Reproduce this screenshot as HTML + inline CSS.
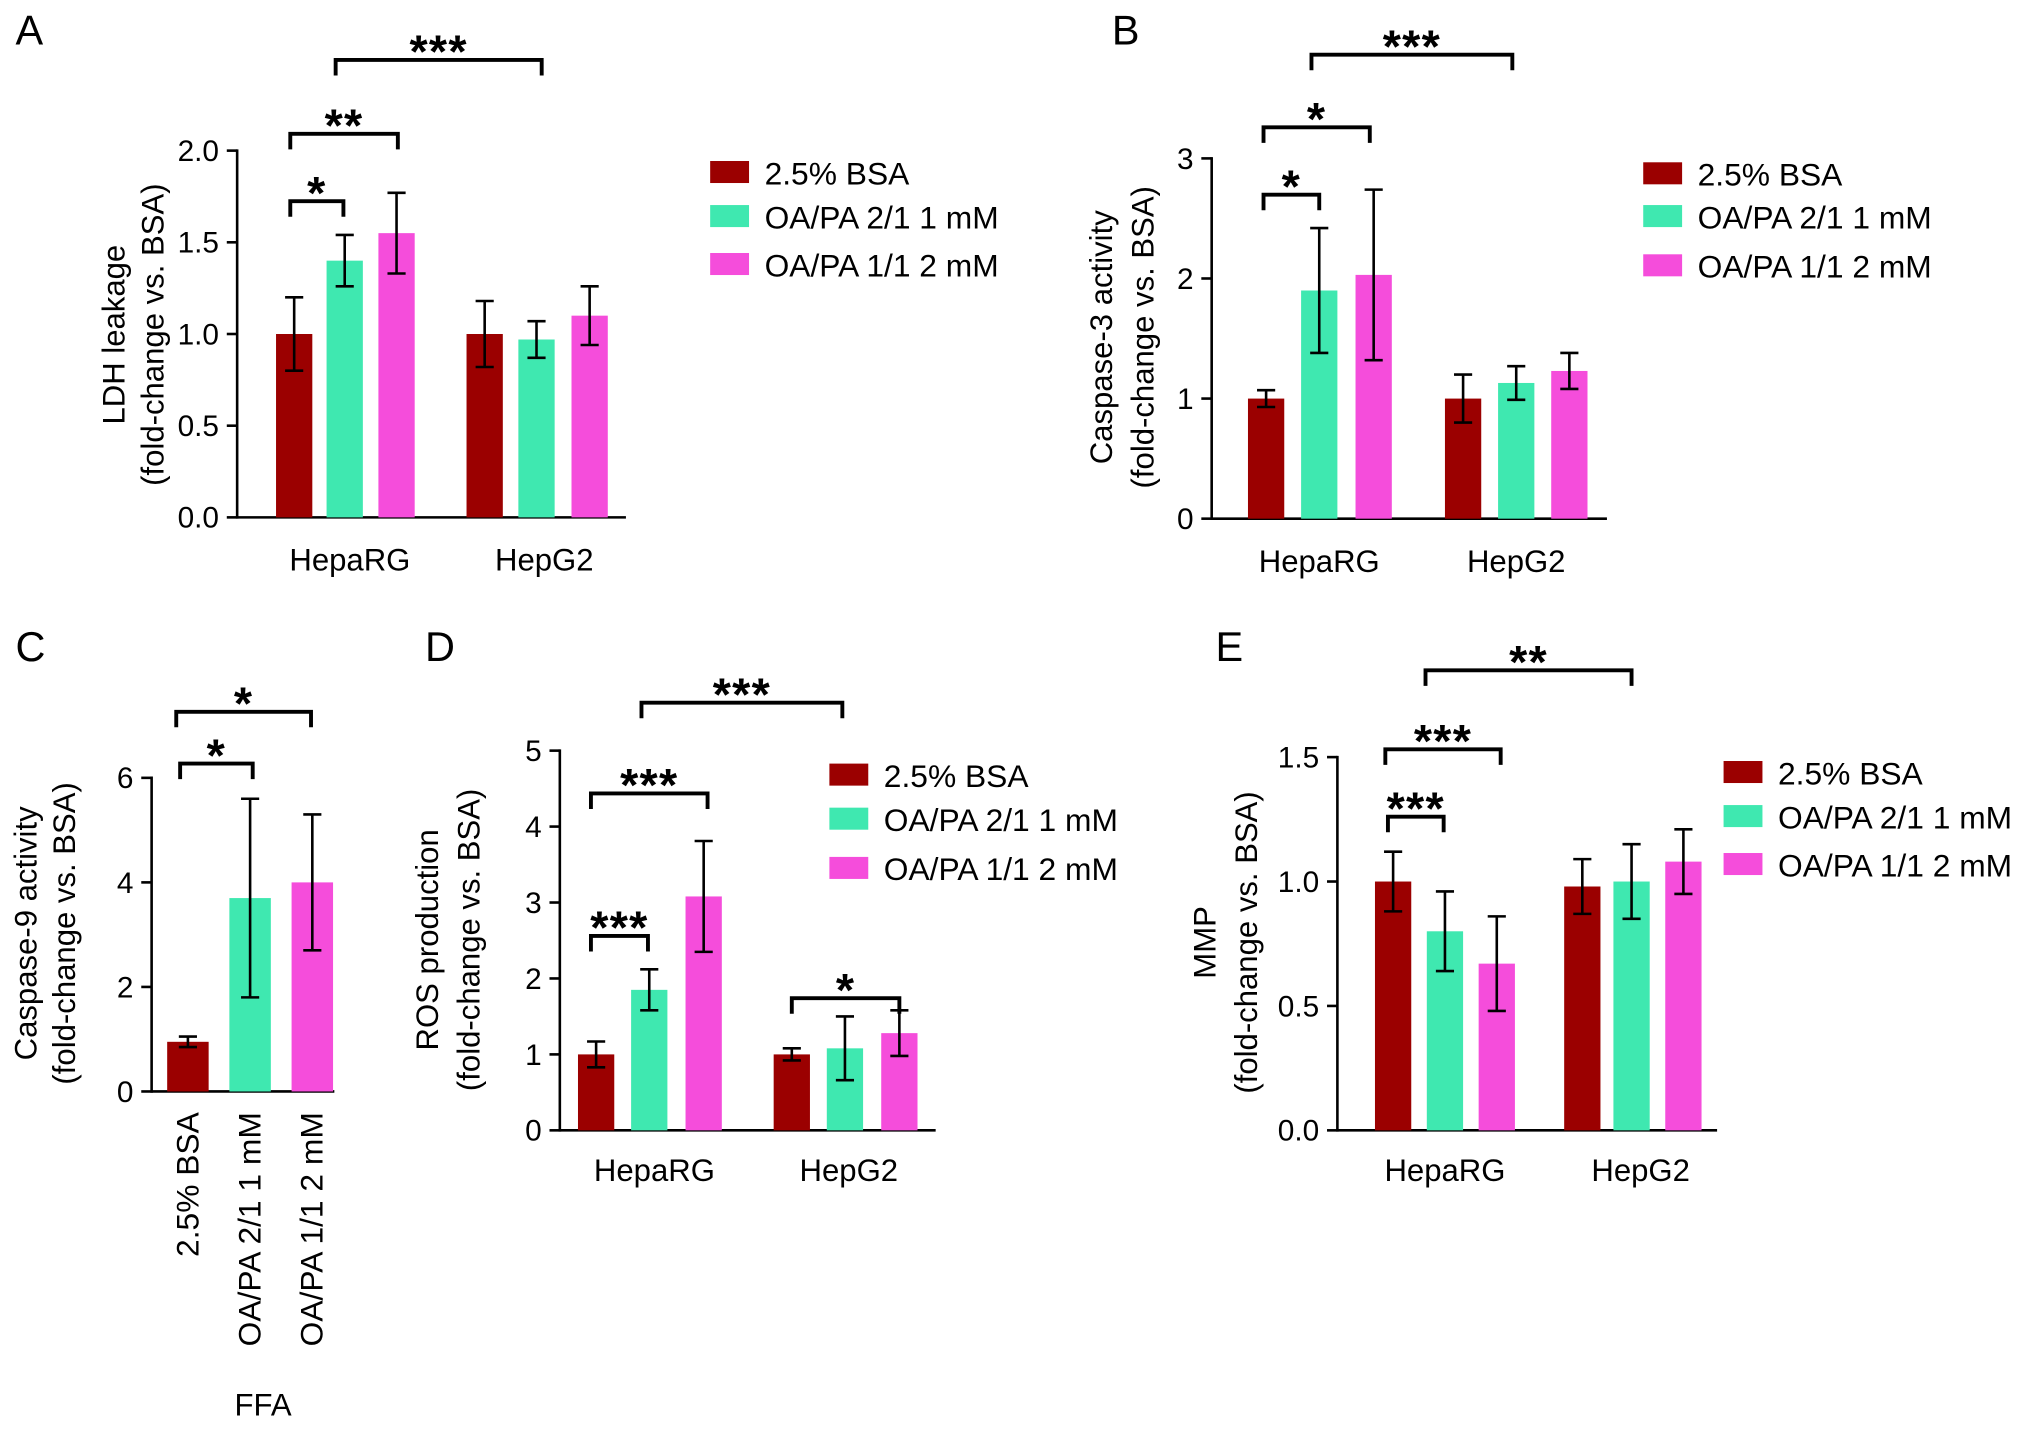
<!DOCTYPE html>
<html><head><meta charset="utf-8"><style>
html,body{margin:0;padding:0;background:#fff}
svg{display:block;font-family:"Liberation Sans",Arial,sans-serif}
</style></head><body>
<svg id="fig" width="2032" height="1430" viewBox="0 0 1568 1103" xmlns="http://www.w3.org/2000/svg"></svg>
<script>
const groups = ["HepaRG","HepG2"];
const seriesNames = ["2.5% BSA","OA/PA 2/1 1 mM","OA/PA 1/1 2 mM"];
const colors = ["#9b0000","#3fe8b0","#f54ddb"];
// Panel A: LDH
const aValues = [[1.0,1.4,1.55],[1.0,0.97,1.1]];
const aErrors = [[0.2,0.14,0.22],[0.18,0.1,0.16]];
const aTicks = ["0.0","0.5","1.0","1.5","2.0"];
// Panel B: caspase-3
const bValues = [[1.0,1.9,2.03],[1.0,1.13,1.23]];
const bErrors = [[0.07,0.52,0.71],[0.2,0.14,0.15]];
const bTicks = ["0","1","2","3"];
// Panel C: caspase-9
const cValues = [0.95,3.7,4.0];
const cErrors = [0.1,1.9,1.3];
const cTicks = ["0","2","4","6"];
// Panel D: ROS
const dValues = [[1.0,1.85,3.08],[1.0,1.08,1.28]];
const dErrors = [[0.17,0.27,0.73],[0.08,0.42,0.3]];
const dTicks = ["0","1","2","3","4","5"];
// Panel E: MMP
const eValues = [[1.0,0.8,0.67],[0.98,1.0,1.08]];
const eErrors = [[0.12,0.16,0.19],[0.11,0.15,0.13]];
const eTicks = ["0.0","0.5","1.0","1.5"];

const svg = document.getElementById('fig');
const NS = "http://www.w3.org/2000/svg";
function mk(tag, attrs, parent, text){
  const e = document.createElementNS(NS, tag);
  for (const k in attrs) e.setAttribute(k, attrs[k]);
  if (text !== undefined) e.textContent = text;
  (parent||svg).appendChild(e);
  return e;
}
function line(x1,y1,x2,y2,p){return mk('line',{x1,y1,x2,y2,stroke:'#000','stroke-width':2},p);}

function axes(g, ax){
  const y = v => ax.y0 - (v/ax.max)*(ax.y0-ax.yTop);
  line(ax.x0, ax.yTop-1, ax.x0, ax.y0+1, g);
  line(ax.x0, ax.y0, ax.x1, ax.y0, g);
  ax.ticks.forEach(t=>{
    const v=parseFloat(t), yy=y(v);
    line(ax.x0-8, yy, ax.x0, yy, g);
    const tl = mk('text',{x:ax.x0-14,y:yy+8,'font-size':23,'text-anchor':'end'},g,t);
    
    
  });
  return y;
}
function bar(g, cx, w, v, err, col, y, ax){
  const r = mk('rect',{x:cx-w/2,y:y(v),width:w,height:ax.y0-y(v),fill:col},g);
  
  
  const e = mk('g',{},g);
  
  
  line(cx, y(v+err), cx, y(v-err), e);
  line(cx-7, y(v+err), cx+7, y(v+err), e);
  line(cx-7, y(v-err), cx+7, y(v-err), e);
}
function sig(g, x1, x2, yy, stars){
  const s = mk('g',{},g);
  
  
  mk('path',{d:`M${x1} ${yy+12}V${yy}H${x2}V${yy+12}`,fill:'none',stroke:'#000','stroke-width':3},s);
  mk('text',{x:(x1+x2)/2,y:yy+6,'font-size':36,'font-weight':'bold','text-anchor':'middle','letter-spacing':'1'},s,stars);
}
function ylabel(g, lines, xs, cy){
  lines.forEach((t,i)=>{
    const l = mk('text',{x:xs[i],y:cy,'font-size':24,'text-anchor':'middle',transform:`rotate(-90 ${xs[i]} ${cy})`},g,t);
    
    
  });
}
function legend(g, x, ys){
  seriesNames.forEach((n,i)=>{
    const le = mk('g',{},g);
    
    
    mk('rect',{x:x,y:ys[i]-9,width:30,height:17,fill:colors[i]},le);
    mk('text',{x:x+42,y:ys[i]+9,'font-size':24.5},le,n);
  });
}
function letter(g,x,y,t){
  const l = mk('text',{x,y,'font-size':32},g,t);
  
  
}
function groupedPanel(name, ax, values, errors, centers, labelX, labelY, w){
  const g = mk('g',{});
  
  
  const y = axes(g, ax);
  groups.forEach((gr,gi)=>{
    values[gi].forEach((v,si)=>bar(g, centers[gi][si], w, v, errors[gi][si], colors[si], y, ax));
    const cl = mk('text',{x:labelX[gi],y:labelY,'font-size':24,'text-anchor':'middle'},g,gr);
    
    
  });
  return g;
}

// A
let g = groupedPanel('panel-a-ldh',{x0:183,x1:483,y0:399,yTop:116,max:2.0,ticks:aTicks},aValues,aErrors,[[227,266,306],[374,414,455]],[270,420],440,28);
letter(g,12,34,'A');
ylabel(g,['LDH leakage','(fold-change vs. BSA)'],[96,126],258);
sig(g,224,265,155,'*'); sig(g,224,307,103,'**'); sig(g,259,418,46,'***');
legend(g,548,[133,167,204]);

// B
g = groupedPanel('panel-b-caspase3',{x0:935,x1:1240,y0:400,yTop:122,max:3,ticks:bTicks},bValues,bErrors,[[977,1018,1060],[1129,1170,1211]],[1018,1170],441,28);
letter(g,858,34,'B');
ylabel(g,['Caspase-3 activity','(fold-change vs. BSA)'],[858,890],260);
sig(g,975,1018,150,'*'); sig(g,975,1057,98,'*'); sig(g,1012,1167,42,'***');
legend(g,1268,[134,167,205]);

// C
g = mk('g',{});


const axC={x0:117,x1:258,y0:842,yTop:600,max:6,ticks:cTicks};
const yC = axes(g,axC);
const cx=[145,193,241];
cValues.forEach((v,i)=>{
  bar(g,cx[i],32,v,cErrors[i],colors[i],yC,axC);
  const t = mk('text',{x:cx[i]+8,y:858,'font-size':24.5,'text-anchor':'end',transform:`rotate(-90 ${cx[i]+8} 858)`},g,seriesNames[i]);
  
  
});
const ffa = mk('text',{x:203,y:1092,'font-size':24,'text-anchor':'middle'},g,'FFA');


letter(g,12,510,'C');
ylabel(g,['Caspase-9 activity','(fold-change vs. BSA)'],[28,58],720);
sig(g,139,195,589,'*'); sig(g,136,240,549,'*');

// D
g = groupedPanel('panel-d-ros',{x0:432,x1:722,y0:872,yTop:579,max:5,ticks:dTicks},dValues,dErrors,[[460,501,543],[611,652,694]],[505,655],911,28);
letter(g,328,510,'D');
ylabel(g,['ROS production','(fold-change vs. BSA)'],[338,370],725);
sig(g,456,500,722,'***'); sig(g,611,694,770,'*'); sig(g,456,546,612,'***'); sig(g,495,650,542,'***');
legend(g,640,[598,632,670]);

// E
g = groupedPanel('panel-e-mmp',{x0:1032,x1:1325,y0:872,yTop:584,max:1.5,ticks:eTicks},eValues,eErrors,[[1075,1115,1155],[1221,1259,1299]],[1115,1266],911,28);
letter(g,938,510,'E');
ylabel(g,['MMP','(fold-change vs. BSA)'],[938,970],727);
sig(g,1071,1114,630,'***'); sig(g,1069,1158,578,'***'); sig(g,1100,1259,517,'**');
legend(g,1330,[596,630,667]);
</script>
</body></html>
